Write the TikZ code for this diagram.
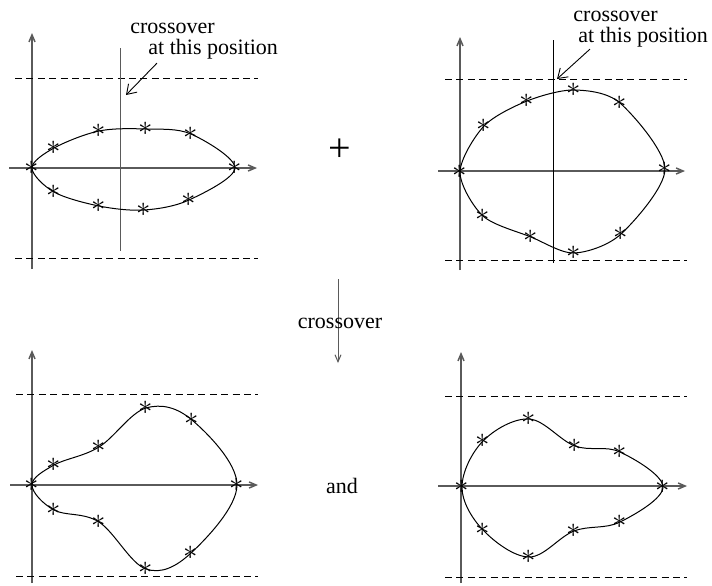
\documentclass[tikz,border=0pt]{standalone}
\usepackage{fontspec}
\setmainfont{Liberation Serif}
\usetikzlibrary{arrows.meta}
\definecolor{axgray}{HTML}{5A5A5A}
\tikzset{
  >={Straight Barb[length=3.5pt,width=3pt]},
  axis/.style={->,draw=axgray,line width=0.75pt},
  bound/.style={dash pattern=on 3.5pt off 2.2pt,line width=0.45pt},
  cut/.style={line width=0.5pt},
  curve/.style={line width=0.5pt},
  pt/.style={inner sep=0pt,font=\fontsize{15}{15}\selectfont},
  lab/.style={inner sep=0pt,font=\fontsize{11}{13}\selectfont},
  ptr/.style={->,>={Straight Barb[length=4.5pt,width=6pt]},line width=0.45pt},
}
\begin{document}
\begin{tikzpicture}[x=0.5pt,y=-0.5pt]
\useasboundingbox (0,0) rectangle (712,585);
% parent A
\draw[axis] (32,269) -- (32,33);
\draw[axis] (9,168) -- (257,168);
\foreach \y in {78,258}{\draw[bound] (15,\y) -- (258,\y);}
\draw[cut,draw=axgray] (120,48) -- (120,251);
\node[lab,anchor=base west] (cxa) at (130,33) {crossover};
\node[lab,anchor=base west] (posa) at (148,54) {at this position};
\coordinate (tipa) at (126,95);
\draw[ptr] ([xshift=4.5pt,yshift=-2pt]posa.south west) -- (tipa);
\foreach \x/\y [count=\k] in {32/168,54/148,99/131,146/129,191/134,235/168,189/200,144/210,99/206,54/192}
  {\node[pt] (a\k) at (\x,\y) {$\ast$};}
\draw[curve] plot[smooth cycle,tension=0.55] coordinates {(a1.center) (a2.center) (a3.center) (a4.center) (a5.center) (a6.center) (a7.center) (a8.center) (a9.center) (a10.center)};
% parent B
\draw[axis] (460,270) -- (460,37);
\draw[axis] (438,171) -- (685,171);
\foreach \y in {79,260}{\draw[bound] (445,\y) -- (687,\y);}
\draw[cut] (553,40) -- (553,263);
\node[lab,anchor=base west] (cxb) at (573,21) {crossover};
\node[lab,anchor=base west] (posb) at (578,42) {at this position};
\coordinate (tipb) at (557,79);
\draw[ptr] ([xshift=6pt,yshift=-1pt]posb.south west) -- (tipb);
\foreach \x/\y [count=\k] in {460/172,484/126,527/101,574/90,620/103,665/169,621/234,574/253,531/237,483/216}
  {\node[pt] (b\k) at (\x,\y) {$\ast$};}
\draw[curve] plot[smooth cycle,tension=0.5] coordinates {(b1.center) (b2.center) (b3.center) (b4.center) (b5.center) (b6.center) (b7.center) (b8.center) (b9.center) (b10.center)};
% plus, crossover step, and
\node[font=\fontsize{20}{20}\selectfont] (plus) at (340,150) {+};
\coordinate (stepa) at (338,279);
\coordinate (stepb) at (338,363);
\draw[->,line width=0.5pt,draw=axgray] (stepa) -- (stepb);
\node[lab] (cxm) at (340,323) {crossover};
\node[lab] (and) at (342,486) {and};
% child A
\draw[axis] (32,583) -- (32,350);
\draw[axis] (10,485) -- (258,485);
\foreach \y in {394,576}{\draw[bound] (16,\y) -- (258,\y);}
\foreach \x/\y [count=\k] in {32/485,54/465,99/447,146/408,192/420,237/485,191/553,146/569,99/522,54/510}
  {\node[pt] (c\k) at (\x,\y) {$\ast$};}
\draw[curve] plot[smooth cycle,tension=0.6] coordinates {(c1.center) (c2.center) (c3.center) (c4.center) (c5.center) (c6.center) (c7.center) (c8.center) (c9.center) (c10.center)};
% child B
\draw[axis] (461,583) -- (461,352);
\draw[axis] (438,486) -- (687,486);
\foreach \y in {396,577}{\draw[bound] (445,\y) -- (687,\y);}
\foreach \x/\y [count=\k] in {462/487,483/441,529/419,575/446,620/452,663/487,620/522,574/531,529/557,483/530}
  {\node[pt] (d\k) at (\x,\y) {$\ast$};}
\draw[curve] plot[smooth cycle,tension=0.6] coordinates {(d1.center) (d2.center) (d3.center) (d4.center) (d5.center) (d6.center) (d7.center) (d8.center) (d9.center) (d10.center)};
\end{tikzpicture}
\end{document}
